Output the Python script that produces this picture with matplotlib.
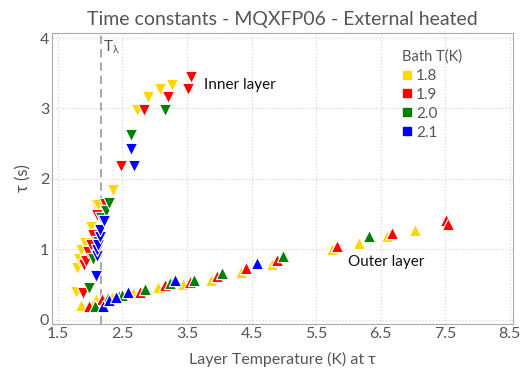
import matplotlib
matplotlib.use("Agg")
import matplotlib.pyplot as plt
from matplotlib.lines import Line2D

plt.rcParams['font.family'] = ['Lato', 'DejaVu Sans']
plt.rcParams['mathtext.fontset'] = 'dejavusans'

bath_temps = ["1.8", "1.9", "2.0", "2.1"]
colors = ["#FFD700", "#FF0000", "#008000", "#0000FF"]

# Inner layer (down triangles)
inner_x = {
    "1.8": [1.78, 1.79, 1.83, 1.86, 1.92, 2.02, 2.09, 2.13, 2.35, 2.72, 2.90, 3.08, 3.27],
    "1.9": [1.89, 1.91, 1.94, 1.97, 2.02, 2.04, 2.10, 2.23, 2.48, 2.83, 3.20, 3.52, 3.57],
    "2.0": [1.99, 2.04, 2.12, 2.17, 2.25, 2.30, 2.63, 3.16],
    "2.1": [2.09, 2.11, 2.10, 2.12, 2.16, 2.15, 2.22, 2.63, 2.68],
}
inner_y = {
    "1.8": [0.40, 0.73, 0.87, 0.99, 1.09, 1.32, 1.63, 1.63, 1.84, 2.98, 3.16, 3.27, 3.34],
    "1.9": [0.38, 0.78, 0.84, 0.96, 1.06, 1.20, 1.49, 1.65, 2.19, 2.98, 3.17, 3.27, 3.45],
    "2.0": [0.45, 0.87, 1.10, 1.44, 1.55, 1.66, 2.62, 2.98],
    "2.1": [0.62, 0.90, 0.99, 1.06, 1.18, 1.28, 1.40, 2.42, 2.19],
}
# Outer layer (up triangles)
outer_x = {
    "1.8": [1.86, 2.09, 2.34, 2.66, 3.05, 3.44, 3.88, 4.33, 4.81, 5.74, 6.17, 6.60, 7.03],
    "1.9": [1.98, 2.19, 2.45, 2.77, 3.16, 3.54, 3.96, 4.41, 4.90, 5.82, 6.67, 7.51, 7.55],
    "2.0": [2.07, 2.28, 2.50, 2.85, 3.23, 3.61, 4.05, 4.99, 6.32],
    "2.1": [2.20, 2.30, 2.40, 2.59, 3.31, 4.59],
}
outer_y = {
    "1.8": [0.21, 0.30, 0.32, 0.38, 0.46, 0.51, 0.57, 0.68, 0.79, 1.01, 1.09, 1.19, 1.27],
    "1.9": [0.19, 0.30, 0.34, 0.40, 0.49, 0.53, 0.62, 0.73, 0.85, 1.05, 1.23, 1.42, 1.36],
    "2.0": [0.19, 0.31, 0.35, 0.43, 0.52, 0.57, 0.67, 0.90, 1.19],
    "2.1": [0.19, 0.28, 0.33, 0.40, 0.56, 0.81],
}
T_lambda = 2.17
xticks = [1.5, 2.5, 3.5, 4.5, 5.5, 6.5, 7.5, 8.5]
yticks = [0, 1, 2, 3, 4]

grey = "#555555"
fig = plt.figure(figsize=(5.23, 3.72), dpi=100)
ax = fig.add_axes([0.0994, 0.129, 0.8816, 0.782])

for bt, c in zip(bath_temps, colors):
    ax.scatter(inner_x[bt], inner_y[bt], marker='v', s=78, color=c,
               edgecolors='white', linewidths=0.8, zorder=3)
    ax.scatter(outer_x[bt], outer_y[bt], marker='^', s=78, color=c,
               edgecolors='white', linewidths=0.8, zorder=3)

ax.axvline(T_lambda, color='#999999', linestyle=(0, (5, 3)), linewidth=1.2, zorder=2)
ax.text(T_lambda + 0.03, 4.0, r'T$_\mathregular{λ}$', color=grey, fontsize=11, va='top', ha='left')

ax.text(3.76, 3.33, "Inner layer", fontsize=11, color='#111111', va='center', ha='left')
ax.text(5.99, 0.82, "Outer layer", fontsize=11, color='#111111', va='center', ha='left')

ax.set_xlim(1.41, 8.55)
ax.set_ylim(-0.06, 4.07)
ax.set_xticks(xticks)
ax.set_yticks(yticks)
ax.set_xticklabels([str(t) for t in xticks])
ax.set_yticklabels([str(t) for t in yticks])
ax.tick_params(colors=grey, labelsize=11.5, length=0, pad=2)
ax.grid(True, linestyle=(0, (1, 2)), color='#d0d0d8', linewidth=0.8)
for sp in ax.spines.values():
    sp.set_color('#aaaaaa')

ax.set_title("Time constants - MQXFP06 - External heated", color=grey, fontsize=14, pad=6)
ax.set_xlabel("Layer Temperature (K) at τ", color=grey, fontsize=11.5, labelpad=8)
ax.set_ylabel("τ (s)", color=grey, fontsize=12, labelpad=6)

handles = [Line2D([], [], marker='s', linestyle='', color=c, markersize=6) for c in colors]
leg = ax.legend(handles, bath_temps, title="Bath T(K)", loc='upper left',
                bbox_to_anchor=(0.733, 0.985), frameon=False, fontsize=11,
                title_fontsize=10.5, handlelength=0.6, handletextpad=0.3,
                labelspacing=0.32, borderpad=0.3)
leg._legend_box.align = "left"
for t in leg.get_texts():
    t.set_color(grey)
leg.get_title().set_color(grey)

fig.savefig("out.png", dpi=100)
